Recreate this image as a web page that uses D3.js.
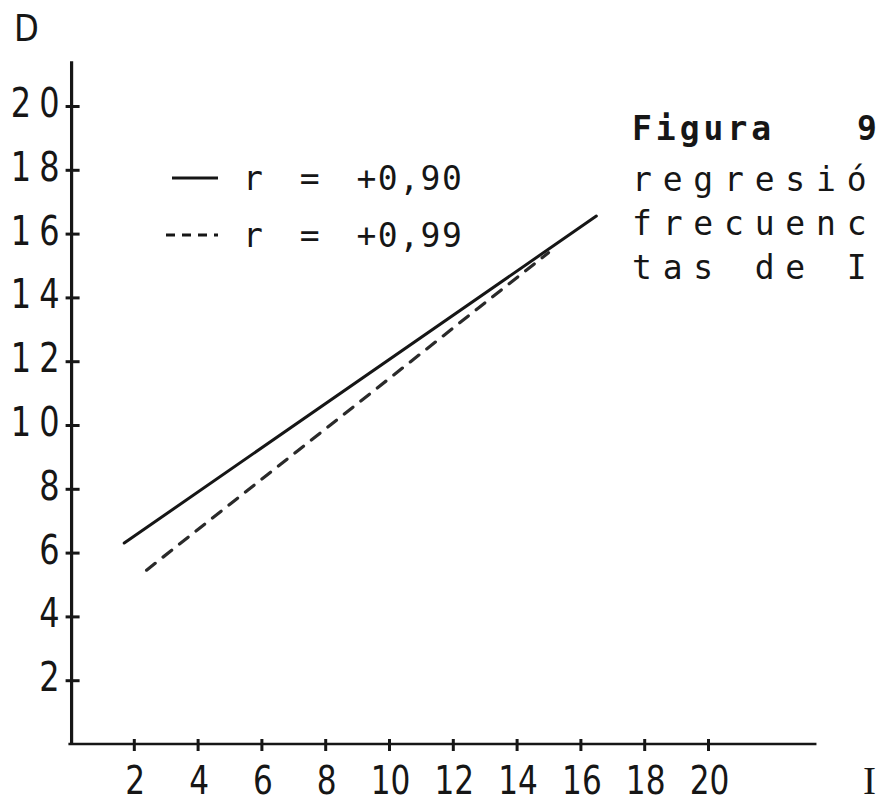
<!DOCTYPE html>
<html>
<head>
<meta charset="utf-8">
<script src="https://cdn.jsdelivr.net/npm/d3@7"></script>
<style>
  body { margin: 0; background: #fff; }
  svg { display: block; }
</style>
</head>
<body>
<svg id="chart" width="880" height="804"></svg>
<script>
// Axis tick values (I on the horizontal axis, D on the vertical axis)
const xTicks = [2, 4, 6, 8, 10, 12, 14, 16, 18, 20];
const yTicks = [2, 4, 6, 8, 10, 12, 14, 16, 18, 20];

// Regression lines, endpoints given as [I, D]
const lineR90 = [[1.7, 6.3], [16.5, 16.55]];
const lineR99 = [[2.4, 5.45], [15.0, 15.4]];

const legendLabels = ["r = +0,90", "r = +0,99"];
// Caption block at the right; the first line is set in bold
const captionTitle = ["Figura", "9"];
const captionLines = ["regresió", "frecuenc", "tas de I"];
const xAxisLabel = "I";
const yAxisLabel = "D";

const ink = "#161616";
const tickFont = "'DejaVu Sans', sans-serif";
const monoFont = "'DejaVu Sans Mono', 'Liberation Mono', monospace";
const squeeze = 0.8; // horizontal compression for the narrow tick digits

const svg = d3.select("#chart");

const x = d3.scaleLinear().domain([0, 20]).range([70, 708]);
const y = d3.scaleLinear().domain([0, 20]).range([744, 106]);

// Axis lines, drawn a little past the last tick
svg.append("line")
  .attr("x1", x(-0.05)).attr("x2", x(23.4))
  .attr("y1", y(0)).attr("y2", y(0))
  .attr("stroke", ink).attr("stroke-width", 2.6);
svg.append("line")
  .attr("x1", x(0.05)).attr("x2", x(0.05))
  .attr("y1", y(-0.03)).attr("y2", y(21.4))
  .attr("stroke", ink).attr("stroke-width", 3.2);

// Vertical axis ticks and labels
const gy = svg.append("g")
  .attr("transform", `translate(${x(0.05)},0)`)
  .call(d3.axisLeft(y).tickValues(yTicks).tickFormat(d3.format("d")));
gy.select(".domain").remove();
gy.selectAll(".tick line")
  .attr("x1", -6).attr("x2", 8)
  .attr("stroke", ink).attr("stroke-width", 3);
gy.selectAll(".tick text")
  .attr("x", 0).attr("dy", "0.26em")
  .attr("transform", `translate(-4,0) scale(${squeeze},1)`)
  .attr("fill", ink)
  .style("font-family", tickFont)
  .style("font-size", "40px")
  .style("letter-spacing", "10px")
  .attr("text-anchor", "end");

// Horizontal axis ticks and labels
const gx = svg.append("g")
  .attr("transform", `translate(0,${y(0)})`)
  .call(d3.axisBottom(x).tickValues(xTicks).tickFormat(d3.format("d")));
gx.select(".domain").remove();
gx.selectAll(".tick line")
  .attr("y1", -5).attr("y2", 7)
  .attr("stroke", ink).attr("stroke-width", 3);
gx.selectAll(".tick text")
  .attr("y", 0).attr("dy", 0)
  .attr("transform", `translate(1,50) scale(${squeeze},1)`)
  .attr("fill", ink)
  .style("font-family", tickFont)
  .style("font-size", "39px")
  .attr("text-anchor", "middle");

// Axis titles
svg.append("text")
  .attr("transform", `translate(14,41) scale(${squeeze + 0.05},1)`)
  .attr("fill", ink)
  .style("font-family", tickFont)
  .style("font-size", "38px")
  .text(yAxisLabel);
svg.append("text")
  .attr("x", 863).attr("y", 794)
  .attr("fill", ink)
  .style("font-family", "'Liberation Serif', 'DejaVu Serif', serif")
  .style("font-size", "39px")
  .text(xAxisLabel);

// Regression lines
const path = d3.line().x(d => x(d[0])).y(d => y(d[1]));
svg.append("path")
  .attr("d", path(lineR90))
  .attr("fill", "none").attr("stroke", ink)
  .attr("stroke-width", 3).attr("stroke-linecap", "round");
svg.append("path")
  .attr("d", path(lineR99))
  .attr("fill", "none").attr("stroke", "#2a2a2a")
  .attr("stroke-width", 3.2).attr("stroke-linecap", "round")
  .attr("stroke-dasharray", "11 10");

// Legend
const legend = svg.append("g");
const rows = legend.selectAll("g").data(legendLabels).join("g")
  .attr("transform", (d, i) => `translate(0,${178 + i * 57})`);
rows.append("line")
  .attr("x1", (d, i) => i ? 166 : 172).attr("x2", 218)
  .attr("y1", 0).attr("y2", 0)
  .attr("stroke", ink).attr("stroke-width", 3)
  .attr("stroke-dasharray", (d, i) => i ? "9 7" : null);
rows.append("text")
  .attr("x", 243).attr("y", 12)
  .attr("fill", ink)
  .style("font-family", monoFont)
  .style("font-size", "33px")
  .style("letter-spacing", "1.5px")
  .style("word-spacing", "14px")
  .text(d => d);

// Caption: bold title line, then the body lines
const caption = svg.append("g")
  .attr("fill", ink)
  .style("font-family", monoFont)
  .style("font-size", "33px");
const title = caption.append("text")
  .attr("y", 140)
  .style("font-weight", "bold");
title.append("tspan").attr("x", 632).style("letter-spacing", "4px").text(captionTitle[0]);
title.append("tspan").attr("x", 857).text(captionTitle[1]);
caption.selectAll("text.body").data(captionLines).join("text")
  .attr("class", "body")
  .attr("x", 632)
  .attr("y", (d, i) => 191 + i * 44)
  .style("letter-spacing", "10.8px")
  .text(d => d);
</script>
</body>
</html>
